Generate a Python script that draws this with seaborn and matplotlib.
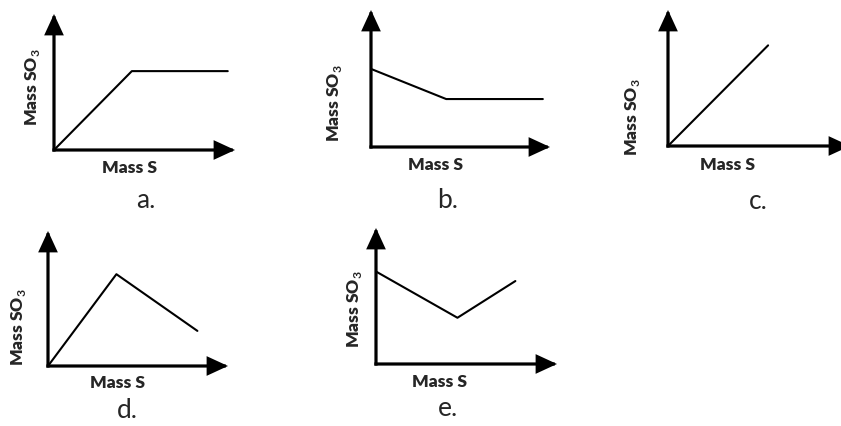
import matplotlib
matplotlib.use("Agg")
import matplotlib.pyplot as plt
import seaborn as sns

# Curve shapes for the five sketches (arbitrary units, axes run 0..10)
panel_names = ["a.", "b.", "c.", "d.", "e."]
a_x = [0.0, 4.3, 9.6]
a_y = [0.0, 5.8, 5.8]
b_x = [0.0, 4.2, 9.6]
b_y = [5.7, 3.5, 3.5]
c_x = [0.0, 5.5]
c_y = [0.0, 7.4]
d_x = [0.0, 3.8, 8.3]
d_y = [0.0, 6.8, 2.6]
e_x = [0.0, 4.5, 7.7]
e_y = [6.8, 3.4, 6.1]
x_label = "Mass S"
y_label = r"Mass SO$_{\mathbf{3}}$"

series = [(a_x, a_y), (b_x, b_y), (c_x, c_y), (d_x, d_y), (e_x, e_y)]

# Layout in pixels: axis origin, x-arrow tip, y-arrow tip
W, H = 841, 426
frames = [
    (54, 150, 235, 14),
    (371, 147, 550, 10),
    (668, 146, 850, 10),
    (48, 366, 228, 231),
    (376, 364, 557, 228),
]
# Text centres in pixels: x label, y label, caption
text_pos = [
    ((130, 168), (33, 87), (146, 200)),
    ((435, 165), (335, 103), (448, 200)),
    ((728, 165), (633, 117), (758, 202)),
    ((118, 383), (18, 327), (127, 410)),
    ((440, 382), (355, 309), (448, 408)),
]

sns.set_theme(style="white")
plt.rcParams["font.family"] = ["Lato", "DejaVu Sans"]
plt.rcParams["mathtext.fontset"] = "custom"
plt.rcParams["mathtext.rm"] = "Lato"
plt.rcParams["mathtext.bf"] = "Lato:bold"

fig = plt.figure(figsize=(W / 100, H / 100), dpi=100)
fig.patch.set_facecolor("white")

arrow_style = "-|>,head_length=11.5,head_width=5.3"

for (xs, ys), (ox, oy, tx, ty), (xl, yl, cap), name in zip(series, frames, text_pos, panel_names):
    ax = fig.add_axes([ox / W, 1 - oy / H, (tx - ox) / W, (oy - ty) / H])
    ax.set_xlim(0, 10)
    ax.set_ylim(0, 10)
    ax.axis("off")
    ax.patch.set_alpha(0)

    sns.lineplot(x=xs, y=ys, ax=ax, color="black", linewidth=1.5, clip_on=False)

    for tip in [(1, 0), (0, 1)]:
        ax.annotate("", xy=tip, xytext=(0, 0), xycoords="axes fraction",
                    textcoords="axes fraction", annotation_clip=False,
                    arrowprops=dict(arrowstyle=arrow_style, mutation_scale=1,
                                    color="black", lw=2.3, shrinkA=0, shrinkB=0,
                                    capstyle="projecting", joinstyle="miter"))

    fig.text(xl[0] / W, 1 - xl[1] / H, x_label, ha="center", va="center",
             fontsize=12.5, fontweight="heavy")
    fig.text(yl[0] / W, 1 - yl[1] / H, y_label, ha="center", va="center",
             fontsize=12.5, fontweight="heavy", rotation=90)
    fig.text(cap[0] / W, 1 - cap[1] / H, name, ha="center", va="center",
             fontsize=19)

fig.savefig("out.png", dpi=100, facecolor="white")
